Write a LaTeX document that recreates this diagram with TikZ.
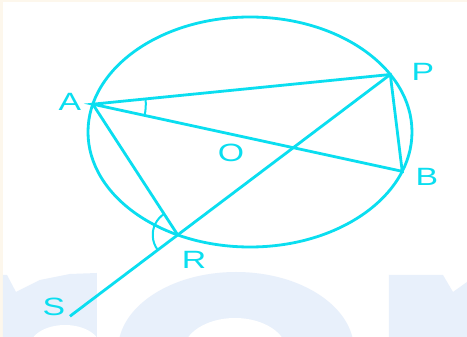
\documentclass[tikz,border=0pt]{standalone}
\usepackage{fontspec}
\setmainfont{Liberation Sans}
\usepackage{xcolor}
\usetikzlibrary{calc}
\definecolor{geo}{RGB}{10,222,240}
\definecolor{wmark}{RGB}{232,240,251}
\definecolor{cream}{RGB}{253,247,236}
\tikzset{lbl/.style={text=geo,font=\fontsize{25}{25}\selectfont,xscale=1.35,inner sep=0pt}}

\begin{document}
\begin{tikzpicture}[x=1pt,y=1pt,line width=2.8pt]
% page, watermark (origin at the centre of the circle)
\fill[cream] (-250,-205) rectangle (217,132);
\fill[white] (-247,-205) rectangle (217,130);
\begin{scope}
\clip (-247,-205) rectangle (217,130);
\fill[wmark] (-247,-143) -- (-243,-143) -- (-234,-160) -- (-210,-148) -- (-180,-142) -- (-153,-141) -- (-153,-205) -- (-247,-205) -- cycle;
\fill[white] (-185,-216) ellipse[x radius=36,y radius=23];
\fill[wmark] (-14,-218) ellipse[x radius=118,y radius=78];
\fill[white] (-15,-220) ellipse[x radius=52,y radius=34];
\fill[wmark] (139,-143) -- (193,-143) -- (203,-160) -- (217,-150) -- (217,-205) -- (139,-205) -- cycle;
\end{scope}
% circle and points
\coordinate (O) at (0,0);
\draw[geo] (O) ellipse[x radius=162,y radius=115];
\coordinate (A) at (166:162 and 115);
\coordinate (P) at (30:162 and 115);
\coordinate (B) at (-20:162 and 115);
\coordinate (R) at (243.5:162 and 115);
\coordinate (S) at ($(P)!1.507!(R)$);
\draw[geo] (A) -- (P) -- (B) -- cycle;
\draw[geo] (A) -- (R);
\draw[geo] (P) -- (S);
% angle marks
\draw[geo,line width=2pt] let \p1=($(P)-(A)$), \p2=($(B)-(A)$), \n1={atan2(\y1,\x1)}, \n2={atan2(\y2,\x2)} in
  ($(A)+(\n2:53)$) arc[start angle=\n2,end angle=\n1,radius=53];
\draw[geo,line width=2pt] let \p1=($(A)-(R)$), \p2=($(S)-(R)$), \n1={atan2(\y1,\x1)}, \n2={atan2(\y2,\x2)+360} in
  ($(R)+(\n1:25)$) arc[start angle=\n1,end angle=\n2,radius=25];
% labels
\node[lbl] (lA) at (-180,30) {A};
\node[lbl] (lP) at (173,60) {P};
\node[lbl] (lB) at (177,-45) {B};
\node[lbl] (lO) at (-19,-21) {O};
\node[lbl] (lR) at (-56,-128) {R};
\node[lbl] (lS) at (-196,-175) {S};
\end{tikzpicture}
\end{document}
